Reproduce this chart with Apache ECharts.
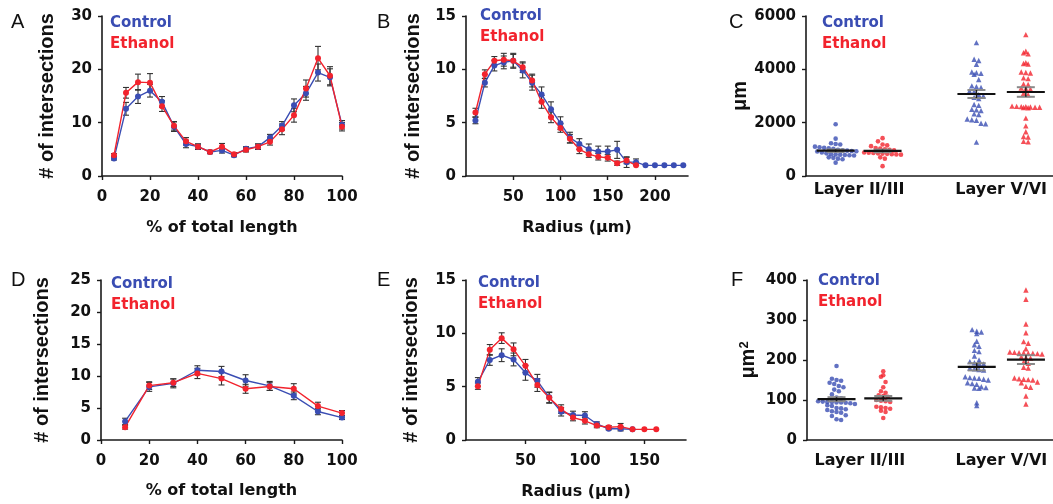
<!DOCTYPE html>
<html><head><meta charset="utf-8">
<script src="https://cdn.jsdelivr.net/npm/echarts@6/dist/echarts.min.js"></script>
<style>html,body{margin:0;padding:0;background:#fff}#c{width:1053px;height:504px}</style>
</head><body><div id="c"></div>
<script>
// ---------- DATA ----------
// Panel A: % of total length
const xA = [5,10,15,20,25,30,35,40,45,50,55,60,65,70,75,80,85,90,95,100];
const ctrlA = [3.3,12.6,14.9,16.0,13.9,9.25,6.0,5.5,4.5,4.8,3.9,5.1,5.5,7.2,9.4,13.25,15.5,19.4,18.5,9.6];
const ctrlAErr = [0.3,1.2,1.3,1.2,1.0,0.9,0.7,0.5,0.3,0.5,0.3,0.4,0.5,0.6,0.8,1.2,1.3,1.6,1.6,0.8];
const ethA = [3.9,15.6,17.6,17.5,13.1,9.4,6.5,5.5,4.5,5.5,4.1,4.9,5.5,6.4,8.75,11.4,16.4,22.1,18.8,9.25];
const ethAErr = [0.3,1.0,1.5,1.7,1.0,0.8,0.7,0.5,0.3,0.6,0.3,0.4,0.5,0.6,1.0,1.3,1.6,2.2,1.7,0.8];
// Panel B: Radius (um)
const xBctrl = [10,20,30,40,50,60,70,80,90,100,110,120,130,140,150,160,170,180,190,200,210,220,230];
const ctrlB = [5.2,8.75,10.35,10.65,10.8,9.9,8.75,7.65,6.25,4.95,3.6,3.0,2.5,2.3,2.3,2.45,1.3,1.3,1,1,1,1,1];
const ctrlBErr = [0.3,0.4,0.5,0.6,0.7,0.7,0.7,0.7,0.7,0.6,0.5,0.5,0.5,0.5,0.5,0.8,0.5,0.3,0,0,0,0,0];
const xBeth = [10,20,30,40,50,60,70,80,90,100,110,120,130,140,150,160,170,180];
const ethB = [5.95,9.55,10.8,10.9,10.8,10.2,8.95,6.95,5.5,4.5,3.5,2.5,2.05,1.8,1.7,1.2,1.45,1.0];
const ethBErr = [0.4,0.4,0.4,0.6,0.6,0.5,0.6,0.6,0.5,0.4,0.4,0.4,0.3,0.3,0.3,0.2,0.3,0];
// Panel C: total dendritic length (um)
const ctrlC_II = [1940,1400,1230,1200,1180,1100,1080,1060,1040,1020,980,960,950,940,930,920,880,850,820,810,800,790,780,770,700,680,650,630,500];
const ethC_II = [1420,1300,1180,1150,1120,1050,1030,1000,980,960,880,870,860,850,840,830,820,810,800,700,650,370];
const ctrlC_V = [5000,4380,4330,4190,3900,3870,3850,3810,3620,3380,3350,3320,3190,3170,3050,3000,2950,2900,2680,2650,2500,2480,2450,2330,2300,2140,2110,2090,1980,1960,1270];
const ethC_V = [5300,4680,4620,4580,4250,4220,4200,3900,3880,3860,3680,3650,3450,3430,3300,3280,3260,3100,3050,2620,2610,2600,2600,2590,2580,2580,2570,2560,2170,1880,1660,1480,1460,1300,1280];
const meanC = [950, 940, 3075, 3150];
const semC = [45, 50, 150, 180];
// Panel D
const xD = [10,20,30,40,50,60,70,80,90,100];
const ctrlD = [2.9,8.3,8.85,10.9,10.7,9.3,8.45,6.9,4.45,3.5];
const ctrlDErr = [0.5,0.7,0.7,0.7,0.8,0.9,0.7,0.6,0.5,0.3];
const ethD = [2.0,8.5,8.95,10.4,9.6,8.0,8.35,8.0,5.3,4.2];
const ethDErr = [0.3,0.6,0.6,0.8,1.0,0.7,0.6,0.8,0.6,0.4];
// Panel E
const xEctrl = [10,20,30,40,50,60,70,80,90,100,110,120,130,140];
const ctrlE = [5.45,7.5,7.95,7.55,6.3,5.55,4.0,2.65,2.35,2.3,1.5,1.05,1.05,1.0];
const ctrlEErr = [0.4,0.5,0.6,0.6,0.7,0.6,0.5,0.4,0.35,0.35,0.2,0.1,0.2,0];
const xEeth = [10,20,30,40,50,60,70,80,90,100,110,120,130,140,150,160];
const ethE = [5.05,8.45,9.55,8.5,6.95,5.15,3.95,2.9,2.1,1.8,1.35,1.2,1.25,1.0,1.0,1.0];
const ethEErr = [0.3,0.5,0.5,0.6,0.6,0.6,0.5,0.4,0.3,0.3,0.2,0.15,0.3,0,0,0];
// Panel F: soma area (um^2)
const ctrlF_II = [185,153,150,148,143,140,135,132,126,122,114,106,104,97,96,95,95,94,94,93,92,90,87,85,80,79,77,75,72,70,68,62,60,52,50];
const ethF_II = [172,162,158,145,132,122,118,112,110,108,100,98,97,95,83,82,80,78,73,70,55];
const ctrlF_V = [276,272,270,266,247,238,234,224,221,210,200,196,193,192,190,180,178,176,175,158,156,155,154,152,150,143,141,139,133,131,130,129,93,86];
const ethF_V = [375,352,290,268,246,242,228,220,219,218,218,217,217,216,215,208,206,205,195,192,182,180,155,153,152,151,150,145,143,134,132,110,90];
const meanF = [102, 104, 183, 201];
const semF = [5, 6, 9, 11];
const layerLabels = ['Layer II/III', 'Layer V/VI'];

// ---------- STYLE / LAYOUT ----------
const BLUE = '#3a4db3', RED = '#f2232d', ERR = '#333', AX = '#1a1a1a';
const FONT = 'DejaVu Sans', VFONT = 'Liberation Sans';
const grids = [
  {left:102, top:16, width:240, height:160},
  {left:466, top:16, width:222, height:160},
  {left:806, top:16, width:247, height:160},
  {left:101, top:280, width:241, height:160},
  {left:466, top:280, width:220, height:160},
  {left:807, top:280, width:246, height:160}
];
const GROUP_POS = [12, 31, 69, 89];   // group centres on the 0-100 scatter axis
const LABEL_POS = [21.5, 79];

function xAxis(gi, min, max, o) {
  return {
    type:'value', gridIndex:gi, min, max, interval:o.interval, name:o.name,
    splitLine:{show:false},
    axisLine:{onZero:false, lineStyle:{color:AX, width:1.6}},
    axisTick:{show:o.tick !== false, length:4, customValues:o.custom, lineStyle:{color:AX, width:1.4}},
    axisLabel:{color:'#111', fontFamily:FONT, fontWeight:'bold', fontSize:o.fs || 15, margin:o.margin || 14,
      customValues:o.custom, formatter:o.formatter},
    nameLocation:'middle', nameGap:o.nameGap || 44,
    nameTextStyle:{color:'#111', fontFamily:FONT, fontWeight:'bold', fontSize:16}
  };
}
function yAxis(gi, max, interval, name, gap, rich) {
  return {
    type:'value', gridIndex:gi, min:0, max, interval, name,
    splitLine:{show:false},
    axisLine:{show:true, lineStyle:{color:AX, width:1.6}},
    axisTick:{show:true, length:4, lineStyle:{color:AX, width:1.4}},
    axisLabel:{color:'#111', fontFamily:FONT, fontWeight:'bold', fontSize:15, margin:10, formatter:v => String(v)},
    nameLocation:'middle', nameGap:gap,
    nameTextStyle:{color:'#111', fontFamily:VFONT, fontWeight:'bold', fontSize:20, rich}
  };
}

const xAxes = [
  xAxis(0, 0, 100, {interval:20, name:'% of total length'}),
  xAxis(1, 0, 235, {custom:[50,100,150,200], name:'Radius (μm)'}),
  xAxis(2, 0, 100, {tick:false, custom:LABEL_POS, fs:16, margin:6,
     formatter:v => v < 50 ? layerLabels[0] : layerLabels[1]}),
  xAxis(3, 0, 100, {interval:20, name:'% of total length', nameGap:43}),
  xAxis(4, 0, 185, {custom:[50,100,150], name:'Radius (μm)', nameGap:44}),
  xAxis(5, 0, 100, {tick:false, custom:LABEL_POS, fs:16, margin:13,
     formatter:v => v < 50 ? layerLabels[0] : layerLabels[1]})
];
const yAxes = [
  yAxis(0, 30, 10, '# of intersections', 45),
  yAxis(1, 15, 5, '# of intersections', 43),
  yAxis(2, 6000, 2000, 'μm', 53),
  yAxis(3, 25, 5, '# of intersections', 49),
  yAxis(4, 15, 5, '# of intersections', 45),
  yAxis(5, 400, 100, 'μm{s|2}', 49, {s:{fontFamily:VFONT, fontWeight:'bold', fontSize:13, verticalAlign:'top', color:'#111'}})
];

// ---------- SERIES ----------
function errRender(params, api) {
  const x = api.value(0), lo = api.value(1), hi = api.value(2);
  if (hi - lo <= 0) return null;
  const a = api.coord([x, lo]), b = api.coord([x, hi]);
  const st = {stroke:ERR, lineWidth:1.1};
  return {type:'group', children:[
    {type:'line', shape:{x1:a[0], y1:a[1], x2:b[0], y2:b[1]}, style:st},
    {type:'line', shape:{x1:a[0]-3, y1:a[1], x2:a[0]+3, y2:a[1]}, style:st},
    {type:'line', shape:{x1:b[0]-3, y1:b[1], x2:b[0]+3, y2:b[1]}, style:st}
  ]};
}
function meanRender(params, api) {
  const c = api.value(0), m = api.value(1), s = api.value(2);
  const pm = api.coord([c, m]), pl = api.coord([c, m - s]), ph = api.coord([c, m + s]);
  return {type:'group', children:[
    {type:'line', shape:{x1:pl[0]-9, y1:pl[1], x2:pl[0]+9, y2:pl[1]}, style:{stroke:'#8a8a8a', lineWidth:2}},
    {type:'line', shape:{x1:ph[0]-9, y1:ph[1], x2:ph[0]+9, y2:ph[1]}, style:{stroke:'#8a8a8a', lineWidth:2}},
    {type:'line', shape:{x1:pl[0], y1:pl[1], x2:ph[0], y2:ph[1]}, style:{stroke:'#222', lineWidth:1.5}},
    {type:'line', shape:{x1:pm[0]-19, y1:pm[1], x2:pm[0]+19, y2:pm[1]}, style:{stroke:'#111', lineWidth:2.2}}
  ]};
}
const series = [];
function addLine(gi, name, color, xs, ys, errs) {
  series.push({type:'custom', name:name + ' SEM', xAxisIndex:gi, yAxisIndex:gi, renderItem:errRender,
    data:xs.map((x, i) => [x, ys[i] - errs[i], ys[i] + errs[i]]), encode:{x:0, y:[1, 2]}, z:2, silent:true});
  series.push({type:'line', name, xAxisIndex:gi, yAxisIndex:gi, data:xs.map((x, i) => [x, ys[i]]),
    symbol:'circle', symbolSize:6, showAllSymbol:true, itemStyle:{color}, lineStyle:{color, width:1.4}, z:3, silent:true});
}
// Prism-like column scatter: values binned into rows, spread horizontally
function swarm(values, center, binSize, dx) {
  const bins = new Map();
  values.forEach(v => { const b = Math.round(v / binSize); if (!bins.has(b)) bins.set(b, []); bins.get(b).push(v); });
  const out = [];
  bins.forEach(arr => arr.forEach((v, i) => out.push([center + (i - (arr.length - 1) / 2) * dx, v])));
  return out;
}
function addScatter(gi, groups, means, sems, yMax) {
  const g = grids[gi];
  const binSize = 5.5 * yMax / g.height;
  const dx = 4.6 * 100 / g.width;
  const cfg = [['Control', BLUE, 'circle'], ['Ethanol', RED, 'circle'], ['Control', BLUE, 'triangle'], ['Ethanol', RED, 'triangle']];
  groups.forEach((vals, k) => {
    series.push({type:'scatter', name:cfg[k][0], xAxisIndex:gi, yAxisIndex:gi,
      data:swarm(vals, GROUP_POS[k], binSize, dx), symbol:cfg[k][2], symbolSize:cfg[k][2] === 'circle' ? 4.6 : 5.4,
      itemStyle:{color:cfg[k][1]}, z:3, silent:true});
  });
  series.push({type:'custom', name:'mean', xAxisIndex:gi, yAxisIndex:gi, renderItem:meanRender,
    data:means.map((m, k) => [GROUP_POS[k], m, sems[k]]), encode:{x:0, y:1}, z:5, silent:true});
}
addLine(0, 'Control', BLUE, xA, ctrlA, ctrlAErr);
addLine(0, 'Ethanol', RED, xA, ethA, ethAErr);
addLine(1, 'Control', BLUE, xBctrl, ctrlB, ctrlBErr);
addLine(1, 'Ethanol', RED, xBeth, ethB, ethBErr);
addScatter(2, [ctrlC_II, ethC_II, ctrlC_V, ethC_V], meanC, semC, 6000);
addLine(3, 'Control', BLUE, xD, ctrlD, ctrlDErr);
addLine(3, 'Ethanol', RED, xD, ethD, ethDErr);
addLine(4, 'Control', BLUE, xEctrl, ctrlE, ctrlEErr);
addLine(4, 'Ethanol', RED, xEeth, ethE, ethEErr);
addScatter(5, [ctrlF_II, ethF_II, ctrlF_V, ethF_V], meanF, semF, 400);

function legend(left, top) {
  return {left, top, orient:'vertical', icon:'none', itemWidth:0, itemHeight:16, itemGap:6, padding:0,
    selectedMode:false,
    textStyle:{fontFamily:FONT, fontWeight:'bold', fontSize:15},
    data:[{name:'Control', textStyle:{color:BLUE}}, {name:'Ethanol', textStyle:{color:RED}}]};
}
function letter(t, left, top) {
  return {text:t, left, top, padding:0, textStyle:{fontFamily:VFONT, fontWeight:'normal', fontSize:20, color:'#111'}};
}

const chart = echarts.init(document.getElementById('c'), null, {renderer:'canvas'});
chart.setOption({
  animation:false,
  backgroundColor:'#fff',
  title:[letter('A', 11, 12), letter('B', 377, 12), letter('C', 729, 12), letter('D', 11, 270), letter('E', 377, 270), letter('F', 731, 270)],
  legend:[legend(105, 15), legend(475, 8), legend(817, 15), legend(106, 276), legend(473, 275), legend(813, 273)],
  grid:grids,
  xAxis:xAxes,
  yAxis:yAxes,
  series
});
</script></body></html>
